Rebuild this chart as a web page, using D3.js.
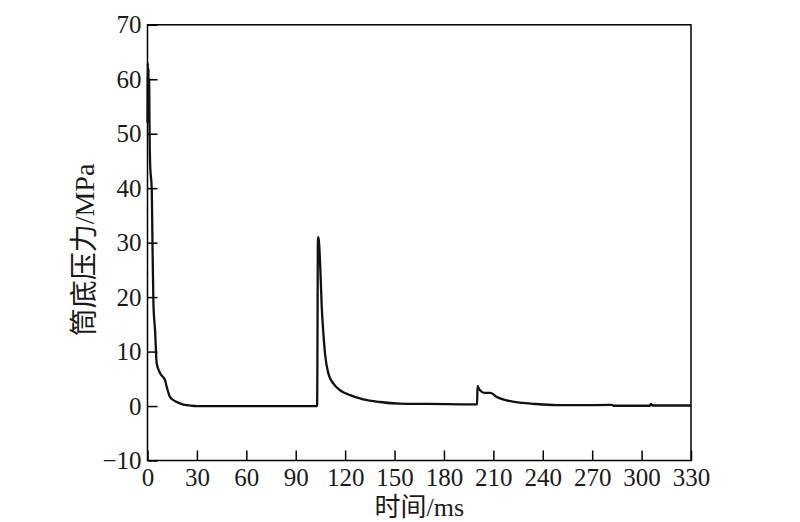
<!DOCTYPE html>
<html><head><meta charset="utf-8">
<script src="https://cdn.jsdelivr.net/npm/d3@7"></script>
<style>body{margin:0;background:#fff}</style>
</head><body>
<svg id="c" width="800" height="522"></svg>
<script>
const timeMs = [0, 0.2, 0.4, 0.6, 0.8, 1.0, 1.2, 1.6, 2.6, 3.0, 3.6, 4.6, 5.6, 7.7, 10.7, 11.7, 13.7, 17.8, 21.8, 27, 30, 60, 90, 102.9,
  103.0, 103.1, 103.5, 104.0, 105.2, 105.8, 106.8, 107.8, 109.8, 112.9, 116.9, 123, 131, 141, 153, 170, 190, 200.1,
  200.4, 201, 203, 205, 208.4, 212, 218, 226, 236, 248.5, 262, 282, 283, 305, 305.6, 306.5, 320, 330];
const pressure = [52, 63, 53, 62, 54, 60, 52, 44.5, 39.6, 30.4, 18.8, 13.9, 7.8, 6.0, 4.7, 3.5, 1.65, 0.73, 0.26, 0.05, 0, 0, 0, 0,
  0.2, 4, 31, 30.5, 23.1, 18.2, 13.3, 9.6, 6.0, 4.1, 2.9, 2.0, 1.23, 0.74, 0.44, 0.38, 0.32, 0.3,
  3.7, 3.3, 2.6, 2.4, 2.4, 1.65, 1.05, 0.62, 0.37, 0.18, 0.15, 0.2, 0.05, 0.05, 0.4, 0.1, 0.1, 0.1];
const xTicks = [0, 30, 60, 90, 120, 150, 180, 210, 240, 270, 300, 330];
const yTicks = [-10, 0, 10, 20, 30, 40, 50, 60, 70];
const xLabel = "时间/ms";
const yLabel = "筒底压力/MPa";

const svg = d3.select("#c");
const L = 147.5, R = 691, T = 24.8, B = 460.5;
const font = "'Liberation Serif','Times New Roman','Noto Sans CJK SC',serif";
const x = d3.scaleLinear().domain([0, 330]).range([L, R]);
const y = d3.scaleLinear().domain([-10, 70]).range([B, T]);

const xAxis = svg.append("g").attr("transform", `translate(0,${B})`)
  .call(d3.axisBottom(x).tickValues(xTicks).tickSizeInner(-10).tickSizeOuter(0).tickPadding(8));
const yAxis = svg.append("g").attr("transform", `translate(${L},0)`)
  .call(d3.axisLeft(y).tickValues(yTicks).tickSizeInner(-10).tickSizeOuter(0).tickPadding(6)
    .tickFormat(d => d < 0 ? "\u2212" + Math.abs(d) : d));
[xAxis, yAxis].forEach(g => {
  g.select(".domain").remove();
  g.selectAll(".tick line").attr("stroke", "#000").attr("stroke-width", 1.5);
  g.selectAll(".tick text").attr("fill", "#1a1a1a").style("font-family", font).style("font-size", "25px");
});

svg.append("rect").attr("x", L).attr("y", T).attr("width", R - L).attr("height", B - T)
  .attr("fill", "none").attr("stroke", "#000").attr("stroke-width", 1.5);

const pts = timeMs.map((t, i) => [t, pressure[i]]);
svg.append("path").datum(pts)
  .attr("fill", "none").attr("stroke", "#111").attr("stroke-width", 2.3).attr("stroke-linejoin", "round")
  .attr("d", d3.line().x(d => x(d[0])).y(d => y(d[1])).curve(d3.curveMonotoneX));

svg.append("text").attr("x", (L + R) / 2).attr("y", 516).attr("text-anchor", "middle")
  .style("font-family", font).style("font-size", "26px").attr("fill", "#1a1a1a").text(xLabel);
svg.append("text").attr("transform", "translate(94,250) rotate(-90)").attr("text-anchor", "middle")
  .style("font-family", font).style("font-size", "28px").attr("fill", "#1a1a1a").text(yLabel);
</script>
</body></html>
